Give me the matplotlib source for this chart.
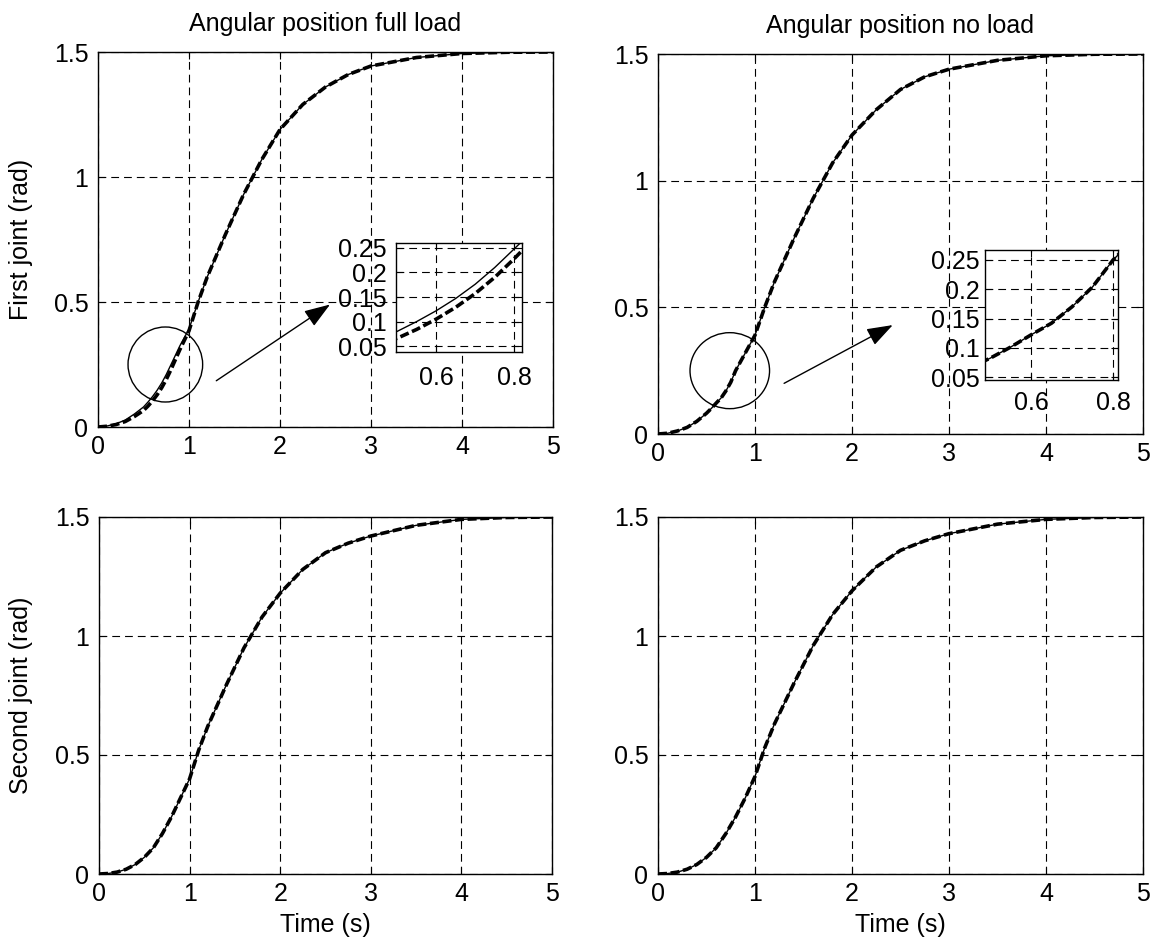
import matplotlib
matplotlib.use("Agg")
import matplotlib.pyplot as plt
from matplotlib.patches import Ellipse

plt.rcParams['font.family'] = ['Liberation Sans', 'DejaVu Sans']
plt.rcParams['font.size'] = 18

# time samples (s)
t = [0, 0.1, 0.2, 0.3, 0.4, 0.5, 0.55, 0.6, 0.65, 0.7, 0.75, 0.8, 0.9,
     1.0, 1.1, 1.2, 1.4, 1.6, 1.8, 2.0, 2.25, 2.5, 2.75, 3.0, 3.5, 4.0, 4.5, 5.0]

# first joint, full load: desired (dashed) and actual (solid)
j1_full_ref = [0, 0.003, 0.01, 0.022, 0.042, 0.066, 0.084, 0.105, 0.129, 0.157, 0.19, 0.228, 0.31,
               0.385, 0.5, 0.6, 0.77, 0.93, 1.07, 1.19, 1.29, 1.36, 1.41, 1.444, 1.478, 1.494, 1.499, 1.5]
j1_full_act = [0, 0.004, 0.013, 0.028, 0.052, 0.08, 0.1, 0.122, 0.147, 0.176, 0.21, 0.248, 0.325,
               0.392, 0.5, 0.6, 0.77, 0.93, 1.07, 1.19, 1.29, 1.36, 1.41, 1.444, 1.478, 1.494, 1.499, 1.5]

# first joint, no load
j1_none_ref = [0, 0.003, 0.012, 0.026, 0.05, 0.082, 0.101, 0.122, 0.142, 0.17, 0.204, 0.25, 0.32,
               0.39, 0.5, 0.6, 0.77, 0.93, 1.07, 1.18, 1.28, 1.36, 1.41, 1.44, 1.475, 1.493, 1.499, 1.5]
j1_none_act = [0, 0.003, 0.012, 0.026, 0.05, 0.082, 0.101, 0.122, 0.142, 0.17, 0.204, 0.25, 0.32,
               0.39, 0.5, 0.6, 0.77, 0.93, 1.07, 1.18, 1.28, 1.36, 1.41, 1.44, 1.475, 1.493, 1.499, 1.5]

# second joint, full load / no load
j2_full_ref = [0, 0.002, 0.008, 0.02, 0.04, 0.07, 0.09, 0.11, 0.14, 0.17, 0.205, 0.24, 0.32,
               0.4, 0.52, 0.62, 0.79, 0.95, 1.08, 1.18, 1.28, 1.35, 1.39, 1.42, 1.465, 1.49, 1.498, 1.5]
j2_full_act = j2_full_ref
j2_none_ref = [0, 0.002, 0.008, 0.02, 0.04, 0.07, 0.09, 0.11, 0.14, 0.17, 0.205, 0.24, 0.32,
               0.41, 0.53, 0.63, 0.8, 0.96, 1.09, 1.19, 1.29, 1.36, 1.40, 1.43, 1.47, 1.49, 1.498, 1.5]
j2_none_act = j2_none_ref

titles = ["Angular position full load", "Angular position no load"]
ylabels = ["First joint (rad)", "Second joint (rad)"]
xticks = [0, 1, 2, 3, 4, 5]
yticks = [0, 0.5, 1, 1.5]
yticklabels = ["0", "0.5", "1", "1.5"]
inset_xticks = [0.6, 0.8]
inset_xticklabels = ["0.6", "0.8"]
inset_yticks = [0.05, 0.1, 0.15, 0.2, 0.25]
inset_yticklabels = ["0.05", "0.1", "0.15", "0.2", "0.25"]

W, H = 1153, 944
fig = plt.figure(figsize=(W / 100, H / 100), dpi=100)


def px_axes(left, top, right, bottom):
    return fig.add_axes([left / W, 1 - bottom / H, (right - left) / W, (bottom - top) / H])


def style(ax, xt, yt, ytl, xtl=None, xpad=6, ypad=7):
    ax.set_xticks(xt)
    if xtl is not None:
        ax.set_xticklabels(xtl)
    ax.set_yticks(yt)
    ax.set_yticklabels(ytl)
    ax.tick_params(direction="in", length=5, width=0.8, top=True, right=True, labelsize=18)
    ax.tick_params(axis="x", pad=xpad)
    ax.tick_params(axis="y", pad=ypad)
    ax.grid(True, color="black", linestyle=(0, (7, 4.5)), linewidth=0.8)
    for s in ax.spines.values():
        s.set_linewidth(1.0)


def curves(ax, ref, act):
    ax.plot(t, act, color="black", linewidth=1.0)
    ax.plot(t, ref, color="black", linewidth=2.6, linestyle=(0, (2.5, 1.0)))


boxes = [(98, 52, 553, 427), (658, 54, 1143, 434),
         (99, 517, 552, 874), (658, 517, 1143, 874)]
data = [(j1_full_ref, j1_full_act), (j1_none_ref, j1_none_act),
        (j2_full_ref, j2_full_act), (j2_none_ref, j2_none_act)]

axes = []
for i, (box, (ref, act)) in enumerate(zip(boxes, data)):
    ax = px_axes(*box)
    curves(ax, ref, act)
    ax.set_xlim(0, 5)
    ax.set_ylim(0, 1.5)
    style(ax, xticks, yticks, yticklabels)
    if i < 2:
        ax.set_title(titles[i], fontsize=18, pad=15)
    if i % 2 == 0:
        ax.set_ylabel(ylabels[i // 2], fontsize=18)
        ax.yaxis.set_label_coords((33 - box[0]) / (box[2] - box[0]), 0.5)
    if i >= 2:
        ax.set_xlabel("Time (s)", fontsize=18, labelpad=5)
    axes.append(ax)

# zoom markers and arrows
for ax, tail, head in [(axes[0], (1.3, 0.185), (2.55, 0.49)),
                       (axes[1], (1.3, 0.2), (2.42, 0.43))]:
    ax.add_patch(Ellipse((0.74, 0.25), 0.82, 0.30, fill=False, color="black", linewidth=1.0))
    ax.annotate("", xy=head, xytext=tail,
                arrowprops=dict(arrowstyle="-|>,head_length=1.0,head_width=0.35",
                                color="black", lw=1.0,
                                mutation_scale=16, shrinkA=0, shrinkB=0))

# insets
insets = [((396, 243, 522, 352), (0.497, 0.82), (0.038, 0.26), j1_full_ref, j1_full_act, 10, 7),
          ((985, 250, 1118, 380), (0.488, 0.812), (0.045, 0.267), j1_none_ref, j1_none_act, 8, 4)]
for box, xl, yl, ref, act, xp, yp in insets:
    ins = px_axes(*box)
    curves(ins, ref, act)
    ins.set_xlim(*xl)
    ins.set_ylim(*yl)
    style(ins, inset_xticks, inset_yticks, inset_yticklabels, inset_xticklabels, xpad=xp, ypad=yp)

fig.savefig("out.png", dpi=100)
